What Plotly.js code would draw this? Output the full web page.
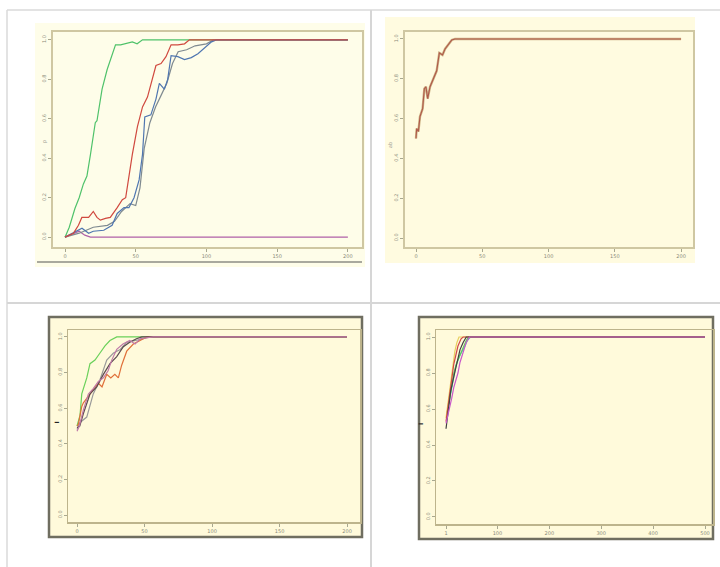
<!DOCTYPE html>
<html>
<head>
<meta charset="utf-8">
<script src="https://cdn.plot.ly/plotly-3.0.1.min.js"></script>
<style>html,body{margin:0;padding:0;background:#fff;}#chart{width:720px;height:567px;}</style>
</head>
<body>
<div id="chart"></div>
<script>
// ---------- DATA ----------
// Panel A (top-left)
const aGreenX = [0, 3, 7, 10, 13, 15.5, 18, 21.4, 22.6, 26.2, 29.8, 33, 35.7, 39.3, 42.9, 47.6, 51, 54.8, 200];
const aGreenY = [0, 0.05, 0.145, 0.2, 0.27, 0.31, 0.42, 0.58, 0.59, 0.75, 0.85, 0.92, 0.975, 0.975, 0.98, 0.99, 0.98, 1.0, 1.0];
const aRedX = [0, 6, 9.5, 11.9, 16.7, 20, 22.6, 25, 28.6, 32, 36.9, 40.5, 42.9, 45, 47.6, 51.2, 54.8, 58.3, 61.9, 64.3, 67.9, 71.4, 75, 79.8, 84.5, 88, 200];
const aRedY = [0, 0.02, 0.06, 0.10, 0.10, 0.13, 0.10, 0.086, 0.095, 0.10, 0.15, 0.19, 0.20, 0.31, 0.42, 0.56, 0.66, 0.71, 0.81, 0.87, 0.88, 0.915, 0.975, 0.975, 0.98, 1.0, 1.0];
const aBlueX = [0, 8.3, 12, 16.7, 20, 27.4, 33.3, 36.9, 41.7, 45.2, 48.8, 52.4, 54.8, 56.4, 60.7, 64.3, 66.7, 70.2, 72.6, 75, 79.8, 84.5, 89.3, 94, 98.8, 103.6, 107, 200];
const aBlueY = [0, 0.03, 0.045, 0.02, 0.03, 0.035, 0.06, 0.12, 0.15, 0.15, 0.20, 0.29, 0.42, 0.61, 0.62, 0.70, 0.78, 0.75, 0.80, 0.92, 0.915, 0.90, 0.91, 0.93, 0.96, 0.99, 1.0, 1.0];
const aGrayX = [0, 10, 20, 30, 35, 40, 46, 50, 53, 56, 60, 64, 68, 72, 76, 80, 86, 92, 100, 105, 200];
const aGrayY = [0, 0.02, 0.05, 0.06, 0.08, 0.13, 0.17, 0.16, 0.25, 0.45, 0.58, 0.66, 0.72, 0.78, 0.88, 0.94, 0.95, 0.97, 0.98, 1.0, 1.0];
const aPurpleX = [0, 6, 10, 14, 18, 200];
const aPurpleY = [0, 0.02, 0.03, 0.01, 0, 0];

// Panel B (top-right)
const bX = [0, 0.5, 1.8, 3, 5, 6.3, 7.5, 8.8, 10.6, 13, 15.6, 17.6, 20, 21.9, 24.4, 27, 29.4, 200];
const bY = [0.50, 0.55, 0.535, 0.61, 0.65, 0.75, 0.76, 0.70, 0.76, 0.80, 0.84, 0.93, 0.92, 0.95, 0.97, 0.995, 1.0, 1.0];

// Panel C (bottom-left)
const cGreenX = [0, 2.2, 3.5, 7.2, 9.6, 13.3, 17, 20.7, 24.4, 29.4, 200];
const cGreenY = [0.50, 0.56, 0.68, 0.77, 0.85, 0.87, 0.91, 0.95, 0.98, 1.0, 1.0];
const cRedX = [0, 1, 3.5, 4.7, 7.2, 12, 15.8, 18.5, 22, 25, 28, 30.6, 33, 36.8, 41.7, 46.7, 51.6, 200];
const cRedY = [0.50, 0.51, 0.61, 0.63, 0.655, 0.70, 0.74, 0.72, 0.79, 0.77, 0.79, 0.77, 0.84, 0.92, 0.96, 0.98, 1.0, 1.0];
const cPinkX = [0, 1.7, 4.7, 8.4, 12, 15.8, 19.5, 23, 25.7, 29.4, 34, 39, 43, 46.7, 56.5, 200];
const cPinkY = [0.47, 0.50, 0.59, 0.68, 0.71, 0.75, 0.77, 0.81, 0.87, 0.93, 0.96, 0.98, 0.96, 0.99, 1.0, 1.0];
const cGrayX = [0, 2.2, 7.2, 12, 17, 22, 27, 32, 36.8, 44, 49, 54, 200];
const cGrayY = [0.48, 0.52, 0.55, 0.68, 0.76, 0.87, 0.91, 0.93, 0.97, 0.98, 0.99, 1.0, 1.0];
const cDarkX = [0, 2, 4.7, 9.6, 14.6, 19.5, 24.4, 29.4, 34.3, 39, 44, 48, 200];
const cDarkY = [0.49, 0.50, 0.57, 0.68, 0.72, 0.79, 0.85, 0.89, 0.945, 0.97, 0.99, 1.0, 1.0];

// Panel D (bottom-right)
const dBlackX = [1, 6, 10, 16, 22, 28, 34, 40, 500];
const dBlackY = [0.49, 0.62, 0.70, 0.78, 0.86, 0.93, 0.97, 1.0, 1.0];
const dMagentaX = [1, 8, 12, 16, 20, 24, 28, 34, 40, 46, 500];
const dMagentaY = [0.52, 0.60, 0.66, 0.72, 0.76, 0.80, 0.86, 0.92, 0.97, 1.0, 1.0];
const dYellowX = [1, 6, 10, 14, 18, 22, 26, 500];
const dYellowY = [0.55, 0.66, 0.76, 0.84, 0.92, 0.97, 1.0, 1.0];
const dRedX = [1, 8, 12, 16, 20, 24, 30, 34, 500];
const dRedY = [0.53, 0.68, 0.76, 0.85, 0.90, 0.95, 0.99, 1.0, 1.0];
const dGreenX = [2, 10, 16, 22, 28, 34, 40, 44, 500];
const dGreenY = [0.55, 0.70, 0.80, 0.86, 0.90, 0.95, 0.98, 1.0, 1.0];
const dCyanX = [3, 12, 20, 28, 36, 42, 48, 500];
const dCyanY = [0.58, 0.72, 0.84, 0.90, 0.94, 0.98, 1.0, 1.0];

// Tick labels
const yTickVals = [0, 0.2, 0.4, 0.6, 0.8, 1.0];
const yTickText = ['0.0', '0.2', '0.4', '0.6', '0.8', '1.0'];
const xTickVals200 = [0, 50, 100, 150, 200];
const xTickText200 = ['0', '50', '100', '150', '200'];
const xTickVals500 = [1, 100, 200, 300, 400, 500];
const xTickText500 = ['1', '100', '200', '300', '400', '500'];

// ---------- LAYOUT ----------
const W = 720, H = 567;
const fx = v => v / W;
const fy = v => 1 - v / H;

function tr(x, y, color, ax, w) {
  return {x: x, y: y, type: 'scatter', mode: 'lines', xaxis: ax[0], yaxis: ax[1],
    line: {color: color, width: w || 1.2}, hoverinfo: 'skip', showlegend: false};
}
const data = [
  tr(aPurpleX, aPurpleY, '#b060a8', ['x', 'y']),
  tr(aGreenX, aGreenY, '#4fc26a', ['x', 'y']),
  tr(aGrayX, aGrayY, '#7f8a90', ['x', 'y']),
  tr(aBlueX, aBlueY, '#4f76b0', ['x', 'y']),
  tr(aRedX, aRedY, '#d0493f', ['x', 'y']),
  tr(bX, bY, '#cdb486', ['x2', 'y2'], 2.4),
  tr(bX, bY, '#b0584a', ['x2', 'y2'], 1.1),
  tr(cGreenX, cGreenY, '#6ad05a', ['x3', 'y3']),
  tr(cGrayX, cGrayY, '#9a9a9a', ['x3', 'y3']),
  tr(cRedX, cRedY, '#e0703a', ['x3', 'y3']),
  tr(cDarkX, cDarkY, '#5a4a50', ['x3', 'y3']),
  tr(cPinkX, cPinkY, '#c07aa8', ['x3', 'y3']),
  tr(dCyanX, dCyanY, '#50c8c0', ['x4', 'y4']),
  tr(dGreenX, dGreenY, '#60c860', ['x4', 'y4']),
  tr(dYellowX, dYellowY, '#e8d060', ['x4', 'y4']),
  tr(dRedX, dRedY, '#d04848', ['x4', 'y4']),
  tr(dBlackX, dBlackY, '#404040', ['x4', 'y4']),
  tr(dMagentaX, dMagentaY, '#c858c8', ['x4', 'y4']),
];

const tickFont = {family: 'DejaVu Sans', size: 5, color: '#8a8a7a'};
function xax(domain, range, vals, text, lineColor, lw) {
  return {domain: domain, range: range, tickvals: vals, ticktext: text, tickfont: tickFont,
    showgrid: false, zeroline: false, showline: true, mirror: true, linecolor: lineColor, linewidth: lw,
    ticks: 'outside', ticklen: 3, tickcolor: '#a8a890', tickwidth: 1, fixedrange: true};
}
function yax(domain, range, lineColor, lw, anchor) {
  return {domain: domain, range: range, tickvals: yTickVals, ticktext: yTickText, tickfont: tickFont,
    tickangle: -90, anchor: anchor,
    showgrid: false, zeroline: false, showline: true, mirror: true, linecolor: lineColor, linewidth: lw,
    ticks: 'outside', ticklen: 3, tickcolor: '#a8a890', tickwidth: 1, fixedrange: true};
}

const topFrame = '#cfc7a2';
const botInner = '#bdb48c';

const layout = {
  width: W, height: H,
  margin: {l: 0, r: 0, t: 0, b: 0},
  paper_bgcolor: '#ffffff',
  plot_bgcolor: 'rgba(0,0,0,0)',
  showlegend: false,
  xaxis: Object.assign(xax([fx(53), fx(362)], [-8.5, 210], xTickVals200, xTickText200, topFrame, 2), {anchor: 'y'}),
  yaxis: yax([fy(247), fy(32)], [-0.05, 1.04], topFrame, 2, 'x'),
  xaxis2: Object.assign(xax([fx(405), fx(693)], [-8.3, 209], xTickVals200, xTickText200, topFrame, 2), {anchor: 'y2'}),
  yaxis2: yax([fy(247), fy(32)], [-0.045, 1.035], topFrame, 2, 'x2'),
  xaxis3: Object.assign(xax([fx(68), fx(360)], [-6.7, 209.6], xTickVals200, xTickText200, botInner, 1.5), {anchor: 'y3'}),
  yaxis3: yax([fy(522), fy(330)], [-0.039, 1.039], botInner, 1.5, 'x3'),
  xaxis4: Object.assign(xax([fx(436), fx(713)], [-18.3, 515.4], xTickVals500, xTickText500, botInner, 1.5), {anchor: 'y4'}),
  yaxis4: yax([fy(524), fy(330)], [-0.039, 1.039], botInner, 1.5, 'x4'),
  shapes: [
    // panel backgrounds
    {type: 'rect', xref: 'paper', yref: 'paper', x0: fx(35), x1: fx(365), y0: fy(267), y1: fy(23),
      fillcolor: '#fefde9', line: {width: 0}, layer: 'below'},
    {type: 'rect', xref: 'paper', yref: 'paper', x0: fx(385), x1: fx(695), y0: fy(263), y1: fy(17),
      fillcolor: '#fffbe0', line: {width: 0}, layer: 'below'},
    {type: 'rect', xref: 'paper', yref: 'paper', x0: fx(49), x1: fx(362), y0: fy(537), y1: fy(317),
      fillcolor: '#fffadb', line: {color: '#6f6e60', width: 2.5}, layer: 'below'},
    {type: 'rect', xref: 'paper', yref: 'paper', x0: fx(419), x1: fx(713), y0: fy(539), y1: fy(317),
      fillcolor: '#fffadb', line: {color: '#6f6e60', width: 2.5}, layer: 'below'},
    // table grid lines
    {type: 'line', xref: 'paper', yref: 'paper', x0: fx(7), x1: fx(720), y0: fy(10), y1: fy(10), line: {color: '#dadada', width: 1.5}},
    {type: 'line', xref: 'paper', yref: 'paper', x0: fx(7), x1: fx(7), y0: fy(10), y1: fy(567), line: {color: '#dadada', width: 1.5}},
    {type: 'line', xref: 'paper', yref: 'paper', x0: fx(371), x1: fx(371), y0: fy(10), y1: fy(567), line: {color: '#d6d6d6', width: 2}},
    {type: 'line', xref: 'paper', yref: 'paper', x0: fx(7), x1: fx(720), y0: fy(303), y1: fy(303), line: {color: '#d6d6d6', width: 2}},
    // dark axis rule under top-left panel
    {type: 'line', xref: 'paper', yref: 'paper', x0: fx(37), x1: fx(362), y0: fy(262), y1: fy(262), line: {color: '#8c8c84', width: 1.5}},
  ],
  annotations: [
    {xref: 'paper', yref: 'paper', x: fx(39), y: fy(138), text: 'p', showarrow: false, textangle: -90,
      font: {family: 'DejaVu Sans', size: 5, color: '#9a9a90'}},
    {xref: 'paper', yref: 'paper', x: fx(390), y: fy(140), text: 'ab', showarrow: false, textangle: -90,
      font: {family: 'DejaVu Sans', size: 5, color: '#9a9a90'}},
    {xref: 'paper', yref: 'paper', x: fx(50), y: fy(426), text: '<b>I</b>', showarrow: false, textangle: -90,
      font: {family: 'DejaVu Sans', size: 6, color: '#222222'}},
    {xref: 'paper', yref: 'paper', x: fx(420), y: fy(427), text: '<b>I</b>', showarrow: false, textangle: -90,
      font: {family: 'DejaVu Sans', size: 6, color: '#222222'}},
  ]
};

Plotly.newPlot('chart', data, layout, {staticPlot: true, displayModeBar: false});
</script>
</body>
</html>
